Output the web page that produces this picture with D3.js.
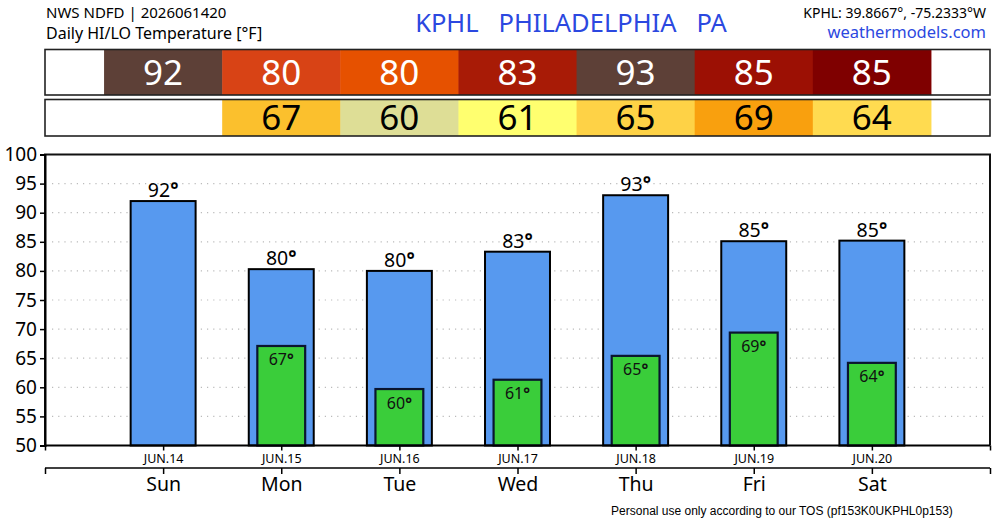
<!DOCTYPE html>
<html>
<head>
<meta charset="utf-8">
<script src="https://cdn.jsdelivr.net/npm/d3@7"></script>
<style>
  body { margin: 0; background: #fff; }
  text { font-family: "Noto Sans", sans-serif; }
  .deg { font-weight: bold; }
</style>
</head>
<body>
<div id="chart"></div>
<script>
// forecast values
var days = ['Sun', 'Mon', 'Tue', 'Wed', 'Thu', 'Fri', 'Sat'];
var dates = ['JUN.14', 'JUN.15', 'JUN.16', 'JUN.17', 'JUN.18', 'JUN.19', 'JUN.20'];
var hiTemps = [92.0, 80.3, 80.0, 83.3, 93.0, 85.1, 85.2];
var loTemps = [null, 67.1, 59.7, 61.3, 65.4, 69.4, 64.2];
var yTicks = [50, 55, 60, 65, 70, 75, 80, 85, 90, 95, 100];

var width = 1000, height = 520;

var svg = d3.select('#chart')
  .append('svg')
  .attr('width', width)
  .attr('height', height);

var x = d3.scaleLinear().domain([-1, 7]).range([45, 990]);
var y = d3.scaleLinear().domain([50, 100]).range([445.5, 154.5]);
var unit = x(1) - x(0);

// colour tables for the header cells
var hiColor = d3.scaleThreshold()
  .domain([80.2, 81, 83, 84.5, 85.15, 90])
  .range(['#e65100', '#d84315', '#bf360c', '#a81b06', '#9c1004', '#7f0000', '#5d4037']);
var loColor = d3.scaleThreshold()
  .domain([60.5, 62, 64.8, 66, 68])
  .range(['#dede96', '#ffff6f', '#ffdb50', '#fed246', '#fbc02d', '#f9a00e']);

// header text
svg.append('text').attr('x', 46).attr('y', 17.5).attr('font-size', 15).text('NWS NDFD | 2026061420');
svg.append('text').attr('x', 46).attr('y', 38.5).attr('font-size', 16).text('Daily HI/LO Temperature [°F]');
svg.append('text').attr('x', 571).attr('y', 32).attr('font-size', 25.5).attr('fill', '#2b48e0')
  .attr('text-anchor', 'middle').attr('xml:space', 'preserve').style('white-space', 'pre')
  .text('KPHL   PHILADELPHIA   PA');
svg.append('text').attr('x', 986).attr('y', 18).attr('font-size', 14).attr('text-anchor', 'end')
  .text('KPHL: 39.8667°, -75.2333°W');
svg.append('text').attr('x', 986).attr('y', 38).attr('font-size', 16.5).attr('fill', '#2b48e0')
  .attr('text-anchor', 'end').text('weathermodels.com');

// HI / LO rows
function row(vals, top, h, colour, textColour) {
  var g = svg.append('g');
  g.append('rect').attr('x', 45).attr('y', top).attr('width', 945).attr('height', h).attr('fill', '#fff');
  var cells = g.selectAll('g.cell')
    .data(vals.map(function(v, i){ return {v: v, i: i}; }).filter(function(d){ return d.v !== null; }))
    .enter()
      .append('g')
      .classed('cell', true);
  cells.append('rect')
    .attr('x', function(d){ return x(d.i) - unit / 2; })
    .attr('y', top)
    .attr('width', unit + 0.5)
    .attr('height', h)
    .attr('fill', function(d){ return colour(d.v); });
  cells.append('text')
    .attr('x', function(d){ return x(d.i); })
    .attr('y', top + h / 2 + 12.5)
    .attr('text-anchor', 'middle')
    .attr('font-size', 35)
    .attr('fill', textColour)
    .text(function(d){ return Math.round(d.v); });
  g.append('rect').attr('x', 45).attr('y', top).attr('width', 945).attr('height', h)
    .attr('fill', 'none').attr('stroke', '#222').attr('stroke-width', 1.6);
}
row(hiTemps, 49.5, 45.5, hiColor, '#fff');
row(loTemps, 99.5, 36.5, loColor, '#000');

// grid lines
svg.append('g')
  .selectAll('line')
  .data(yTicks.slice(1, -1))
  .enter()
    .append('line')
    .attr('x1', 52).attr('x2', 986)
    .attr('y1', function(d){ return y(d); })
    .attr('y2', function(d){ return y(d); })
    .attr('stroke', '#bbb')
    .attr('stroke-width', 1.2)
    .attr('stroke-dasharray', '1.2,5');

// high bars
var hiBarW = 0.55 * unit;
svg.append('g')
  .selectAll('rect')
  .data(hiTemps)
  .enter()
    .append('rect')
    .attr('x', function(d, i){ return x(i) - hiBarW / 2; })
    .attr('y', function(d){ return y(d); })
    .attr('width', hiBarW)
    .attr('height', function(d){ return y(50) - y(d); })
    .attr('fill', '#5799ef')
    .attr('stroke', '#000')
    .attr('stroke-width', 2);

var hiLabels = svg.append('g')
  .selectAll('text')
  .data(hiTemps)
  .enter()
    .append('text')
    .attr('x', function(d, i){ return x(i); })
    .attr('y', function(d){ return y(d) - 4; })
    .attr('text-anchor', 'middle')
    .attr('font-size', 19.5)
    .text(function(d){ return Math.round(d); });
hiLabels.append('tspan').classed('deg', true).text('°');

// low bars
var loBarW = 0.405 * unit;
var lows = loTemps.map(function(v, i){ return {v: v, i: i}; }).filter(function(d){ return d.v !== null; });
svg.append('g')
  .selectAll('rect')
  .data(lows)
  .enter()
    .append('rect')
    .attr('x', function(d){ return x(d.i) - loBarW / 2; })
    .attr('y', function(d){ return y(d.v); })
    .attr('width', loBarW)
    .attr('height', function(d){ return y(50) - y(d.v); })
    .attr('fill', '#3acd3a')
    .attr('stroke', '#0a1530')
    .attr('stroke-width', 2.2);

var loLabels = svg.append('g')
  .selectAll('text')
  .data(lows)
  .enter()
    .append('text')
    .attr('x', function(d){ return x(d.i); })
    .attr('y', function(d){ return y(d.v) + 19.5; })
    .attr('text-anchor', 'middle')
    .attr('font-size', 16)
    .attr('fill', '#111')
    .text(function(d){ return Math.round(d.v); });
loLabels.append('tspan').classed('deg', true).text('°');

// frame
svg.append('path')
  .attr('d', 'M' + x(-1) + ',' + y(50) + 'V' + y(100) + 'H' + x(7) + 'V' + y(50))
  .attr('fill', 'none')
  .attr('stroke', '#111')
  .attr('stroke-width', 2);

// y axis
var yAxis = svg.append('g')
  .attr('transform', 'translate(' + x(-1) + ',0)')
  .call(d3.axisLeft(y).tickValues(yTicks).tickSize(5).tickPadding(3));
yAxis.select('.domain').attr('stroke-width', 2);
yAxis.selectAll('.tick line').attr('stroke-width', 1.5);
yAxis.selectAll('text').attr('font-size', 19).attr('font-family', '"Noto Sans", sans-serif').attr('fill', '#000');

// date axis
var tickIdx = d3.range(-1, 8);
var dateAxis = svg.append('g')
  .attr('transform', 'translate(0,' + y(50) + ')')
  .call(d3.axisBottom(x).tickValues(tickIdx).tickSize(5).tickPadding(4)
    .tickFormat(function(d){ return dates[d] || ''; }));
dateAxis.select('.domain').attr('stroke-width', 2).attr('d', 'M' + x(-1) + ',0H' + x(7));
dateAxis.selectAll('.tick line').attr('stroke-width', 1.5);
dateAxis.selectAll('text').attr('font-size', 12.5).attr('font-family', '"Noto Sans", sans-serif').attr('fill', '#000');

// day-name axis
var dayAxis = svg.append('g')
  .attr('transform', 'translate(0,468)')
  .call(d3.axisBottom(x).tickValues(tickIdx).tickSize(6).tickPadding(3)
    .tickFormat(function(d){ return days[d] || ''; }));
dayAxis.select('.domain').attr('stroke-width', 1.5).attr('d', 'M' + x(-1) + ',0H' + x(7));
dayAxis.selectAll('.tick line').attr('stroke-width', 1.5);
dayAxis.selectAll('text').attr('font-size', 19.5).attr('font-family', '"Noto Sans", sans-serif').attr('fill', '#000');

// footer
svg.append('text')
  .attr('x', 782).attr('y', 515)
  .attr('text-anchor', 'middle')
  .attr('font-size', 12)
  .style('font-family', '"Liberation Sans", Arial, sans-serif')
  .text('Personal use only according to our TOS (pf153K0UKPHL0p153)');
</script>
</body>
</html>
